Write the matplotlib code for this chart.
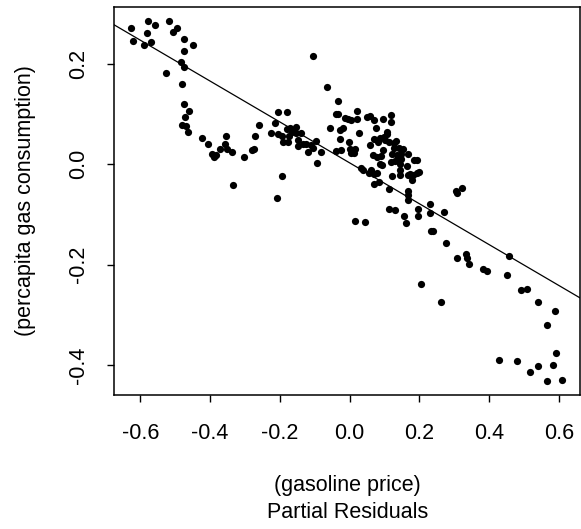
import matplotlib
matplotlib.use('Agg')
from matplotlib import pyplot as plt

# partial residuals
price = [-0.626, -0.621, -0.591, -0.578, -0.580, -0.570, -0.558, -0.518, -0.506, -0.494,
         -0.475, -0.450, -0.475, -0.527, -0.484, -0.474, -0.482, -0.474, -0.460, -0.472,
         -0.480, -0.468, -0.463, -0.424, -0.405, -0.396, -0.389, -0.383, -0.372, -0.355,
         -0.358, -0.353, -0.337, -0.334, -0.302, -0.281, -0.274, -0.271, -0.259, -0.226,
         -0.214, -0.206, -0.205, -0.180, -0.195, -0.209, -0.193, -0.190, -0.177, -0.179,
         -0.171, -0.174, -0.166, -0.155, -0.154, -0.147, -0.139, -0.147, -0.134, -0.126,
         -0.119, -0.106, -0.104, -0.096, -0.110, -0.094, -0.082, -0.065, -0.057, -0.040,
         -0.033, -0.032, -0.040, -0.027, -0.020, -0.027, -0.024, -0.014, -0.005, -0.003,
         0.003, 0.005, 0.001, 0.016, 0.012, 0.015, 0.020, 0.022, 0.027, 0.034,
         0.039, 0.044, 0.051, 0.058, 0.059, 0.055, 0.061, 0.066, 0.069, 0.069,
         0.069, 0.071, 0.076, 0.078, 0.080, 0.082, 0.084, 0.088, 0.086, 0.090,
         0.093, 0.095, 0.097, 0.099, 0.103, 0.106, 0.107, 0.112, 0.114, 0.114,
         0.119, 0.119, 0.121, 0.122, 0.119, 0.128, 0.128, 0.131, 0.133, 0.131,
         0.135, 0.138, 0.141, 0.144, 0.146, 0.146, 0.148, 0.149, 0.154, 0.156,
         0.161, 0.165, 0.167, 0.167, 0.169, 0.167, 0.169, 0.173, 0.178, 0.183,
         0.186, 0.193, 0.194, 0.199, 0.196, 0.196, 0.206, 0.231, 0.231, 0.233,
         0.239, 0.263, 0.272, 0.278, 0.305, 0.307, 0.322, 0.309, 0.334, 0.338,
         0.343, 0.382, 0.393, 0.428, 0.451, 0.458, 0.479, 0.491, 0.510, 0.518,
         0.540, 0.541, 0.567, 0.566, 0.589, 0.591, 0.585, 0.610]
consumption = [0.272, 0.246, 0.238, 0.285, 0.261, 0.243, 0.277, 0.285, 0.263, 0.272,
               0.250, 0.238, 0.226, 0.182, 0.203, 0.194, 0.160, 0.121, 0.107, 0.094,
               0.078, 0.077, 0.064, 0.052, 0.040, 0.021, 0.015, 0.019, 0.030, 0.056,
               0.040, 0.031, 0.024, -0.041, 0.014, 0.028, 0.030, 0.056, 0.078, 0.063,
               0.082, 0.061, 0.104, 0.104, -0.023, -0.068, 0.056, 0.045, 0.045, 0.070,
               0.073, 0.056, 0.065, 0.075, 0.062, 0.049, 0.062, 0.036, 0.040, 0.040,
               0.025, 0.216, 0.032, 0.046, 0.038, 0.003, 0.025, 0.155, 0.072, 0.100,
               0.127, 0.100, 0.027, 0.068, 0.072, 0.050, 0.028, 0.093, 0.090, 0.044,
               0.088, 0.023, 0.031, 0.030, 0.023, -0.113, 0.091, 0.107, 0.062, -0.007,
               -0.012, -0.115, 0.094, 0.096, 0.038, -0.017, -0.011, 0.018, 0.089, 0.050,
               -0.039, -0.019, 0.072, -0.018, 0.015, 0.044, -0.036, 0.052, 0.001, 0.017,
               -0.002, 0.028, 0.091, 0.055, 0.048, 0.060, 0.065, -0.049, 0.045, -0.089,
               0.098, 0.084, 0.021, -0.023, 0.005, 0.032, 0.043, -0.091, 0.046, 0.006,
               0.019, 0.011, 0.032, 0.001, -0.012, -0.022, 0.021, 0.011, 0.030, -0.103,
               -0.117, -0.003, 0.021, -0.054, -0.062, -0.072, -0.022, -0.019, -0.032, -0.022,
               0.009, 0.009, -0.017, -0.015, -0.089, -0.103, -0.238, -0.079, -0.097, -0.132,
               -0.133, -0.274, -0.095, -0.157, -0.053, -0.057, -0.048, -0.187, -0.179, -0.187,
               -0.199, -0.209, -0.212, -0.389, -0.220, -0.183, -0.392, -0.250, -0.249, -0.414,
               -0.402, -0.275, -0.320, -0.431, -0.292, -0.375, -0.400, -0.430]

# fitted component line
intercept = 0.003
slope = -0.407

x_ticks = [-0.6, -0.4, -0.2, 0.0, 0.2, 0.4, 0.6]
y_ticks = [-0.4, -0.2, 0.0, 0.2]

plt.rcParams['font.family'] = ['Liberation Sans', 'DejaVu Sans']

fig = plt.figure(figsize=(5.81, 5.29), dpi=100)
ax = fig.add_axes([0.1967, 0.2533, 0.8015, 0.734])

ax.scatter(price, consumption, s=27, color='black', linewidths=0, zorder=3)
ax.axline((0, intercept), slope=slope, color='black', linewidth=0.9)

ax.set_xlim(-0.675, 0.661)
ax.set_ylim(-0.4596, 0.314)

ax.set_xticks(x_ticks)
ax.set_xticklabels(['%.1f' % t for t in x_ticks])
ax.set_yticks(y_ticks)
ax.set_yticklabels(['%.1f' % t for t in y_ticks], rotation=90, va='center')
ax.tick_params(axis='both', direction='out', length=5, width=1, labelsize=15.5, color='black')
ax.tick_params(axis='x', pad=15)
ax.tick_params(axis='y', pad=13)

for sp in ax.spines.values():
    sp.set_linewidth(1.1)

fig.text(0.598, 1 - 485 / 529, '(gasoline price)', ha='center', va='center', fontsize=15.5)
fig.text(0.598, 1 - 512 / 529, 'Partial Residuals', ha='center', va='center', fontsize=15.5)
fig.text(26 / 581, 1 - 201 / 529, '(percapita gas consumption)', ha='center', va='center',
         rotation=90, fontsize=15.5)

fig.savefig('out.png', dpi=100)
